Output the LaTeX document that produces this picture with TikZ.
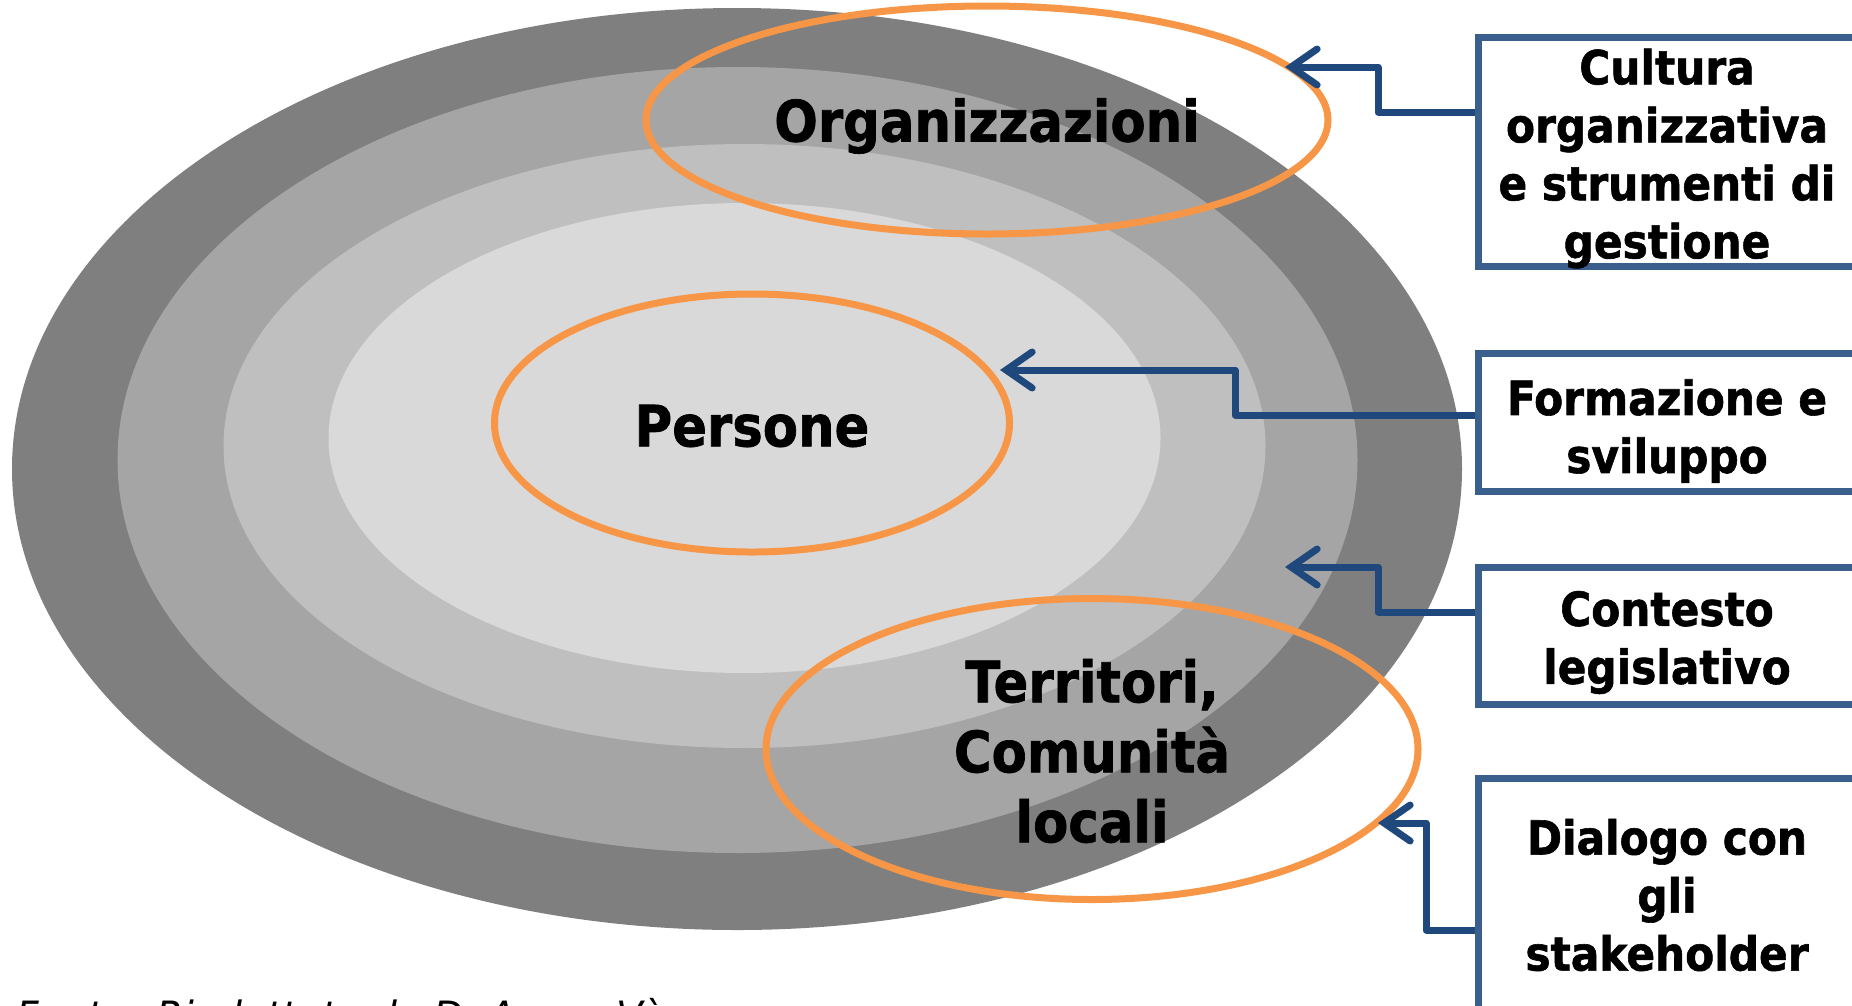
\documentclass[tikz,border=0pt]{standalone}
\usepackage{fontspec}
\usepackage{tikz}
\usetikzlibrary{shapes.geometric}
\usetikzlibrary{arrows.meta}
\usetikzlibrary{calc}
\newfontfamily\etichetta{DejaVu Sans}[FakeStretch=0.9,BoldFeatures={FakeBold=1.2}]
\newfontfamily\nota{DejaVu Sans}
\definecolor{grigioscuro}{HTML}{7F7F7F}
\definecolor{grigiomedio}{HTML}{A5A5A5}
\definecolor{grigiochiaro}{HTML}{BFBFBF}
\definecolor{grigiotenue}{HTML}{D9D9D9}
\definecolor{arancio}{HTML}{F79646}
\definecolor{blubordo}{HTML}{3A5F8C}
\definecolor{blufreccia}{HTML}{1F497D}

\begin{document}
\begin{tikzpicture}[x=1pt,y=-1pt,
	alone/.style={ellipse,draw=arancio,line width=7pt,inner sep=0pt},
	titolo/.style={align=center,inner sep=0pt,font=\etichetta\bfseries\fontsize{57}{70}\selectfont},
	cornice/.style={rectangle,draw=blubordo,line width=7pt,fill=white,inner sep=0pt,minimum width=378pt},
	voce/.style={align=center,inner sep=0pt,font=\etichetta\bfseries\fontsize{47}{58}\selectfont},
	freccia/.style={draw=blufreccia,line width=7pt,line join=round,
		-{Straight Barb[length=26pt,width=36pt,line cap=round]}}]
	\useasboundingbox (0,0) rectangle (1852,1005);
	\clip (0,0) rectangle (1852,1005);
	
	% anelli concentrici
	\fill [grigioscuro] (737,469) ellipse [x radius=725pt, y radius=461pt];
	\fill [grigiomedio] (737.5,460) ellipse [x radius=620pt, y radius=393pt];
	\fill [grigiochiaro] (744.5,446) ellipse [x radius=521pt, y radius=302pt];
	\fill [grigiotenue] (744.5,438) ellipse [x radius=416pt, y radius=235pt];
	
	% livelli
	\node [alone,minimum width=682pt,minimum height=228pt] (organizzazioni) at (987,120) {};
	\node [alone,minimum width=515pt,minimum height=258pt] (persone) at (752,423) {};
	\node [alone,minimum width=652pt,minimum height=301pt] (territori) at (1092,749) {};
	\node [titolo] (organizzazioni-t) at ($(organizzazioni)+(0,6)$) {Organizzazioni};
	\node [titolo] (persone-t) at ($(persone)+(0,3)$) {Persone};
	\node [titolo] (territori-t) at ($(territori)+(0,2)$) {Territori,\\Comunità\\locali};
	
	% riquadri a destra
	\node [cornice,minimum height=229pt] (cultura) at (1667,151.5) {};
	\node [cornice,minimum height=138pt] (formazione) at (1667,422) {};
	\node [cornice,minimum height=137pt] (contesto) at (1667,635.5) {};
	\node [cornice,minimum height=234pt] (dialogo) at (1667,895) {};
	\node [voce] (cultura-t) at ($(cultura)+(0,7)$) {Cultura\\organizzativa\\e strumenti di\\gestione};
	\node [voce] (formazione-t) at ($(formazione)+(0,9)$) {Formazione e\\sviluppo};
	\node [voce] (contesto-t) at ($(contesto)+(0,7)$) {Contesto\\legislativo};
	\node [voce] (dialogo-t) at (dialogo) {Dialogo con\\gli\\stakeholder};
	
	% frecce
	\coordinate (puntaA) at (1285,67);
	\coordinate (puntaB) at (1000,370);
	\coordinate (puntaC) at (1285,567);
	\coordinate (puntaD) at (1378,823);
	\draw [freccia] ($(cultura.west)+(0,-39.5)$) -| ($(puntaA)+(93,0)$) -- (puntaA);
	\draw [freccia] ($(formazione.west)+(0,-7)$) -| ($(puntaB)+(235,0)$) -- (puntaB);
	\draw [freccia] ($(contesto.west)+(0,-23.5)$) -| ($(puntaC)+(93,0)$) -- (puntaC);
	\draw [freccia] ($(dialogo.west)+(0,35)$) -| ($(puntaD)+(48,0)$) -- (puntaD);
	
	\node [anchor=base west,inner sep=0pt,font=\nota\itshape\fontsize{39}{46}\selectfont] (fonte) at (16,1029) {Fonte: Riadattato da D. Arena Và};
\end{tikzpicture}
\end{document}
